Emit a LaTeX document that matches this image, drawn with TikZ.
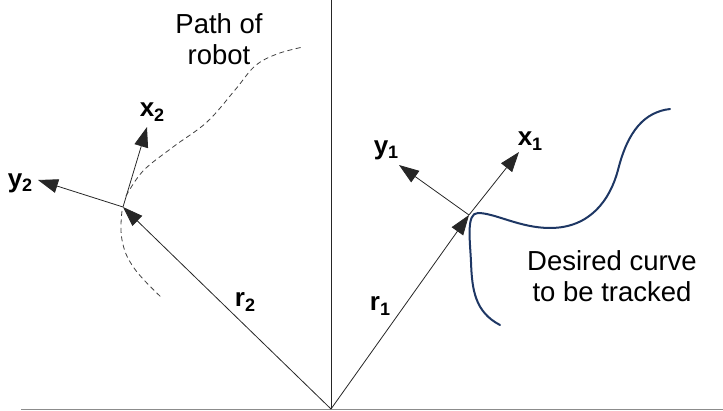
\documentclass[tikz,border=0pt]{standalone}
\usepackage{fontspec}
\setmainfont{Liberation Sans}
\usetikzlibrary{arrows.meta}
\definecolor{curveblue}{RGB}{30,55,100}
\tikzset{
  thinline/.style={line width=0.8pt, draw=black!85},
  vec/.style={thinline, -{Triangle[length=20pt,width=14pt]}},
  robotpath/.style={line width=0.8pt, draw=black!75, dash pattern=on 5pt off 3.5pt},
  lbl/.style={font=\fontsize{26}{29}\selectfont\bfseries, inner sep=0pt},
  txt/.style={font=\fontsize{27.5}{31}\selectfont, align=center, inner sep=0pt},
  desired/.style={line width=2pt, draw=curveblue, line cap=round}
}
\newcommand{\sbs}[1]{\raisebox{-0.35ex}{\fontsize{18}{18}\selectfont\bfseries #1}}
\begin{document}
\begin{tikzpicture}[x=1pt,y=-1pt]
\useasboundingbox (0,0) rectangle (723,411);
% axes
\coordinate (O) at (331,409);
\coordinate (top) at (331,0);
\coordinate (left) at (21,409);
\coordinate (right) at (723,409);
\draw[thinline] (top) -- (O);
\draw[line width=0.9pt, draw=black!45] (left) -- (right);
% robot frame 2
\coordinate (P2) at (123,207);
\coordinate (X2) at (147,127);
\coordinate (Y2) at (38,180);
\draw[vec] (O) -- (P2);
\draw[vec] (P2) -- (X2);
\draw[vec] (P2) -- (Y2);
\node[lbl] (x2) at (152,112) {x\sbs{2}};
\node[lbl] (y2) at (20,183) {y\sbs{2}};
\node[lbl] (r2) at (245,302) {r\sbs{2}};
% path of robot
\draw[robotpath] plot[smooth, tension=0.6] coordinates {(126,196) (143,171) (173,147) (207,122) (235,90) (255,66) (277,54) (303,47)};
\draw[robotpath] plot[smooth, tension=0.7] coordinates {(122,211) (122,240) (134,268) (162,298)};
\node[txt] (path) at (219,39) {Path of\\robot};
% robot frame 1
\coordinate (P1) at (469,215);
\coordinate (X1) at (519,152);
\coordinate (Y1) at (399,165);
\draw[vec] (O) -- (P1);
\draw[vec] (P1) -- (X1);
\draw[vec] (P1) -- (Y1);
\node[lbl] (x1) at (530,141) {x\sbs{1}};
\node[lbl] (y1) at (386,150) {y\sbs{1}};
\node[lbl] (r1) at (380,306) {r\sbs{1}};
% desired curve
\draw[desired] (500,325) .. controls (475,312) and (472,290) .. (471,262)
  .. controls (470,240) and (466,213) .. (478,213)
  .. controls (495,213) and (520,228) .. (550,228)
  .. controls (590,228) and (610,200) .. (618,170)
  .. controls (628,130) and (645,112) .. (670,109);
\node[txt] (desc) at (612,276) {Desired curve\\to be tracked};
\end{tikzpicture}
\end{document}
